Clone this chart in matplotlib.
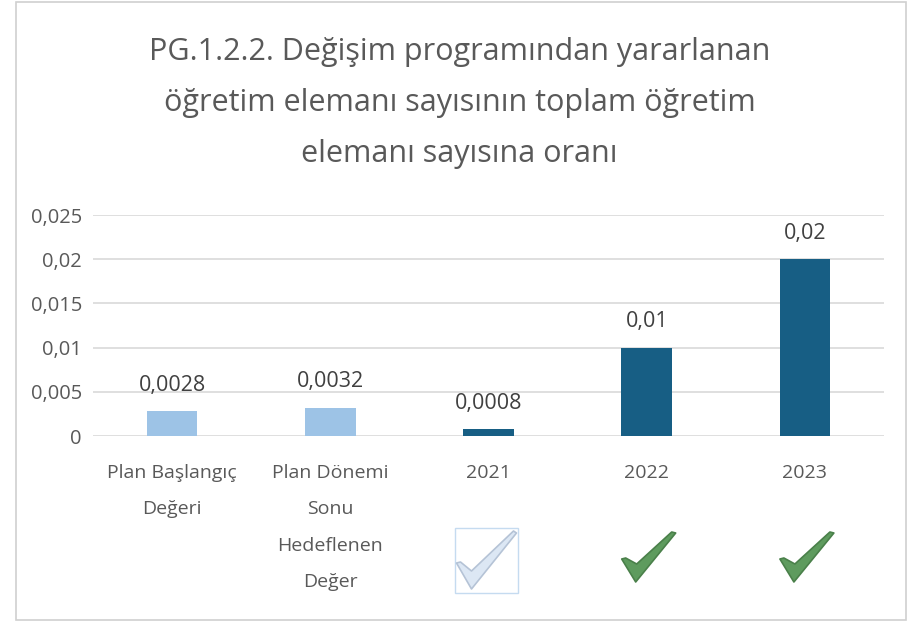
import matplotlib
matplotlib.use("Agg")
import matplotlib.pyplot as plt
import matplotlib.transforms as mtransforms
from matplotlib.patches import Polygon, Rectangle

# chart data
categories = ["Plan Başlangıç\nDeğeri", "Plan Dönemi\nSonu\nHedeflenen\nDeğer",
              "2021", "2022", "2023"]
values = [0.0028, 0.0032, 0.0008, 0.01, 0.02]
value_labels = ["0,0028", "0,0032", "0,0008", "0,01", "0,02"]
y_ticks = [0, 0.005, 0.01, 0.015, 0.02, 0.025]
y_tick_labels = ["0", "0,005", "0,01", "0,015", "0,02", "0,025"]
check_status = [None, None, "faded", "ok", "ok"]

title = ("PG.1.2.2. Değişim programından yararlanan\n"
         "öğretim elemanı sayısının toplam öğretim\n"
         "elemanı sayısına oranı")

light_blue = "#9DC3E6"
dark_blue = "#175E84"
bar_colors = [light_blue, light_blue, dark_blue, dark_blue, dark_blue]
text_gray = "#595959"

plt.rcParams['font.family'] = ['Open Sans', 'DejaVu Sans']

fig = plt.figure(figsize=(9.19, 6.25), dpi=100)

# outer chart border
fig.patches.append(Rectangle((16 / 919, 5 / 625), 890 / 919, 618 / 625,
                             transform=fig.transFigure, fill=False,
                             edgecolor="#D0D0D0", linewidth=1.2))

ax = fig.add_axes([93 / 919, (625 - 436) / 625, (884 - 93) / 919, 221 / 625])
x = list(range(len(categories)))
ax.bar(x, values, width=0.32, color=bar_colors, zorder=3)
ax.set_xlim(-0.5, len(categories) - 0.5)
ax.set_ylim(0, 0.025)
ax.set_yticks(y_ticks)
ax.set_yticklabels(y_tick_labels, fontsize=14.5, color=text_gray)
ax.set_xticks(x)
ax.set_xticklabels(categories, fontsize=14, color=text_gray, linespacing=2.32,
                   va="top")
ax.tick_params(axis="both", length=0)
ax.tick_params(axis="y", pad=8)
ax.tick_params(axis="x", pad=20)
ax.grid(axis="y", color="#D9D9D9", linewidth=1.2, zorder=0)
for s in ax.spines.values():
    s.set_visible(False)

for xi, v, lab in zip(x, values, value_labels):
    ax.annotate(lab, (xi, v), xytext=(0, 11), textcoords="offset points",
                ha="center", va="bottom", fontsize=15.5, color="#404040")

fig.text(0.5, 0.835, title, ha="center", va="center", fontsize=22,
         color=text_gray, linespacing=1.9)

# check marks under the year columns (shape in inches, anchored at category)
green_shape = [(-25, 1), (-21, 2), (-10, -4), (25, 28), (29, 27), (-11, -22)]
faded_shape = [(-32, -3), (-28, -2), (-17, -11), (25, 29), (28, 27), (-17, -29)]
anchor_y = (436 - 560) / 221
for xi, status in zip(x, check_status):
    if status is None:
        continue
    tr = fig.dpi_scale_trans + mtransforms.ScaledTranslation(
        xi, anchor_y, ax.get_xaxis_transform())
    if status == "ok":
        pts = [(px / 100, py / 100) for px, py in green_shape]
        poly = Polygon(pts, closed=True, facecolor="#5E9B5E", edgecolor="#4A804A",
                       linewidth=1.2, joinstyle="round", transform=tr, clip_on=False)
        fig.add_artist(poly)
    else:
        box = Rectangle((-0.34, -0.33), 0.63, 0.65, fill=False, edgecolor="#C5DBF0",
                        linewidth=1.0, transform=tr, clip_on=False)
        fig.add_artist(box)
        pts = [(px / 100, py / 100) for px, py in faded_shape]
        poly = Polygon(pts, closed=True, facecolor="#DCE7F4", edgecolor="#B5C3D6",
                       linewidth=1.2, joinstyle="round", transform=tr, clip_on=False)
        fig.add_artist(poly)

fig.savefig("out.png", dpi=100)
